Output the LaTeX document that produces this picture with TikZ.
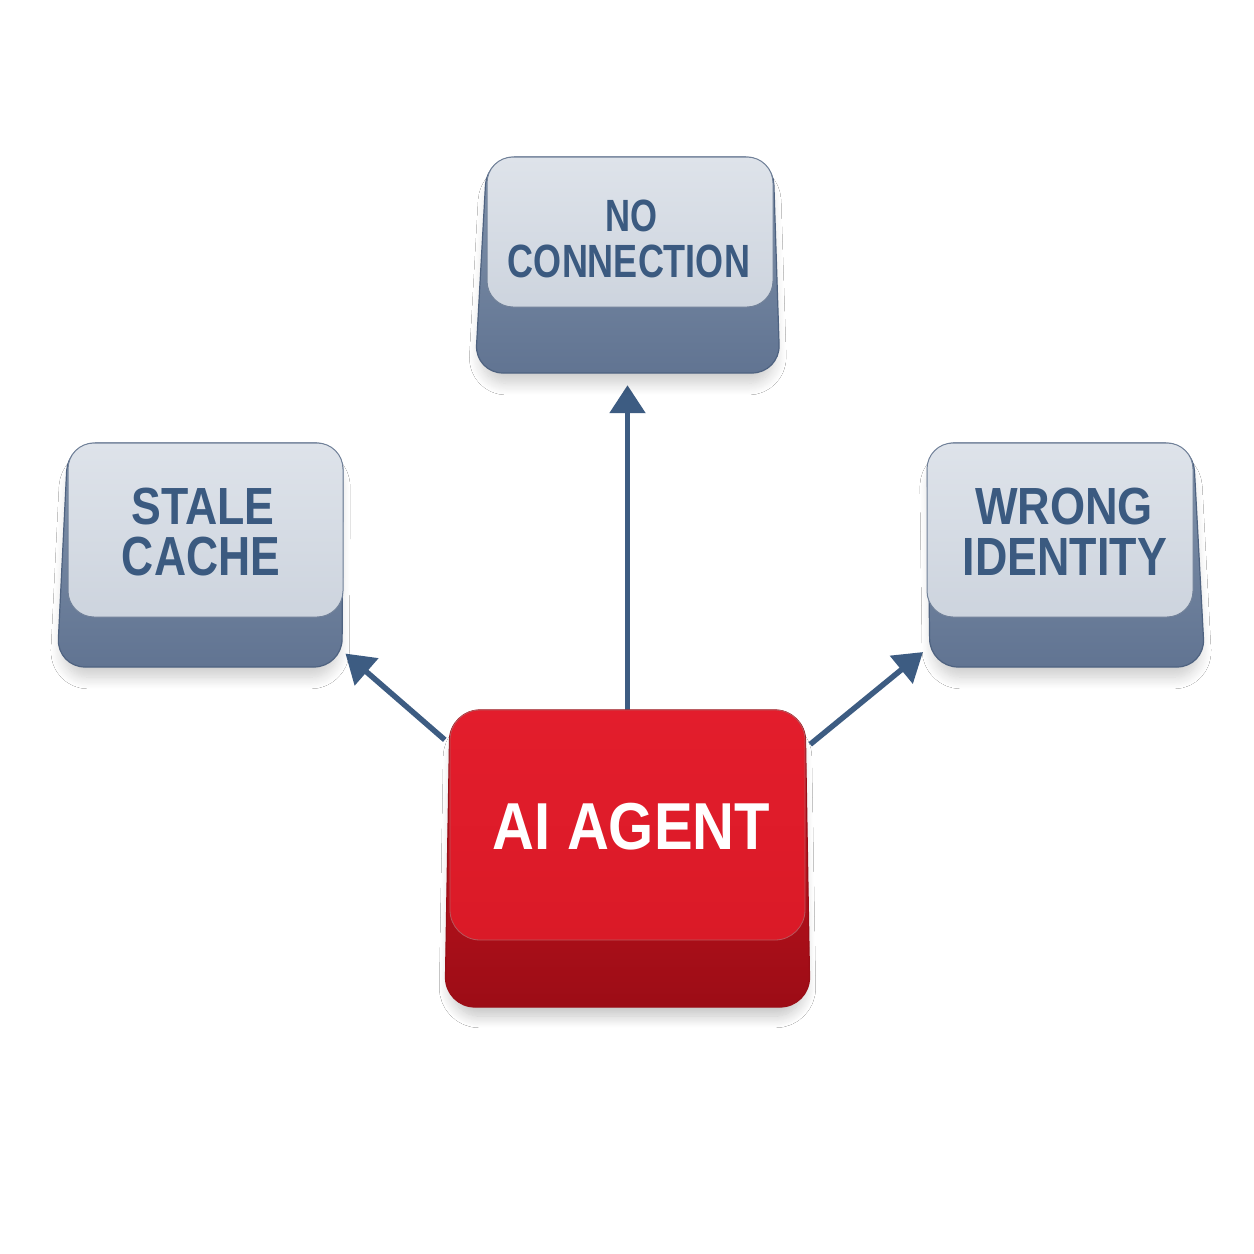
\documentclass[tikz,border=0pt]{standalone}
\usepackage{fontspec}
\setmainfont{Liberation Sans}
\usepackage{graphicx}
\usetikzlibrary{arrows.meta,shadows.blur}
\definecolor{arrowc}{HTML}{3D5C82}
\definecolor{txtblue}{HTML}{3B5A80}
\definecolor{facetop}{HTML}{DEE3EA}
\definecolor{facebot}{HTML}{CDD4DE}
\definecolor{sidetop}{HTML}{8193AB}
\definecolor{sidebot}{HTML}{617492}
\definecolor{grayline}{HTML}{4E6280}
\definecolor{redfacetop}{HTML}{E31D2C}
\definecolor{redfacebot}{HTML}{DA1A27}
\definecolor{redsidetop}{HTML}{D01721}
\definecolor{redsidebot}{HTML}{9C0C16}
\definecolor{redline}{HTML}{9A0D16}
\newcommand{\fitline}[3]{\resizebox*{#1pt}{#2pt}{\bfseries #3}}
\begin{document}
\begin{tikzpicture}[x=1pt,y=-1pt,
  keyarea/.style={rectangle,inner sep=0pt,draw=none},
  conn/.style={draw=arrowc,line width=5.5pt,-{Triangle[length=28pt,width=35pt]}},
  softshadow/.style={blur shadow={shadow xshift=0pt,shadow yshift=-14pt,shadow scale=0.97,shadow blur radius=12pt,shadow blur steps=14,shadow opacity=#1}},
  graybase/.style={rounded corners=28pt,top color=sidetop,bottom color=sidebot,draw=grayline,line width=1.2pt,softshadow=20},
  grayface/.style={rectangle,rounded corners=26pt,inner sep=0pt,top color=facetop,bottom color=facebot,draw=grayline!80,line width=1pt},
  graytext/.style={inner sep=0pt,text=txtblue},
  redbase/.style={rounded corners=30pt,top color=redsidetop,bottom color=redsidebot,draw=redline,line width=1.2pt,softshadow=24},
  redface/.style={rectangle,rounded corners=30pt,inner sep=0pt,top color=redfacetop,bottom color=redfacebot,draw=redline!70,line width=0.8pt},
  redtext/.style={inner sep=0pt,text=white}
]
\useasboundingbox[fill=white] (0,0) rectangle (1254,1254);

% whole-key areas used for connectors
\node[keyarea,minimum width=305pt,minimum height=216pt] (nocon) at (627.5,265) {};
\node[keyarea,minimum width=286pt,minimum height=224pt] (stale) at (200,555) {};
\node[keyarea,minimum width=278pt,minimum height=224pt] (wrong) at (1066,555) {};
\node[keyarea,minimum width=365pt,minimum height=297pt] (agent) at (627.5,858.5) {};

% connectors
\draw[conn,shorten >=12pt] (agent.north) -- (nocon.south);
\draw[conn,shorten >=3pt] (agent.147) -- (stale.-34);
\draw[conn,shorten >=5pt] (agent.32) -- (wrong.214);

% NO CONNECTION key
\path[graybase] (487,157) -- (475,373) -- (780,373) -- (773,157) -- cycle;
\node[grayface,minimum width=286pt,minimum height=150pt] (noconface) at (630,232) {};
\node[graytext] (noconA) at (631,216) {\fitline{52}{32}{NO}};
\node[graytext] (noconB) at (629,261.5) {\fitline{242}{33}{CONNECTION}};

% STALE CACHE key
\path[graybase] (68,443) -- (57,667) -- (342,667) -- (343,443) -- cycle;
\node[grayface,minimum width=275pt,minimum height=174pt] (staleface) at (205.5,530) {};
\node[graytext] (staleA) at (203,506) {\fitline{143}{37}{STALE}};
\node[graytext] (staleB) at (201,557) {\fitline{158}{39}{CACHE}};

% WRONG IDENTITY key
\path[graybase] (927,443) -- (930,667) -- (1205,667) -- (1193,443) -- cycle;
\node[grayface,minimum width=266pt,minimum height=174pt] (wrongface) at (1060,530) {};
\node[graytext] (wrongA) at (1064,506) {\fitline{178}{37}{WRONG}};
\node[graytext] (wrongB) at (1065,556.5) {\fitline{204}{37}{IDENTITY}};

% AI AGENT key
\path[redbase] (450,710) -- (445,1007) -- (810,1007) -- (805,710) -- cycle;
\node[redface,minimum width=355pt,minimum height=230pt] (agentface) at (627.5,825) {};
\node[redtext] (agentA) at (631.5,826.5) {\fitline{277}{47}{AI AGENT}};
\end{tikzpicture}
\end{document}
